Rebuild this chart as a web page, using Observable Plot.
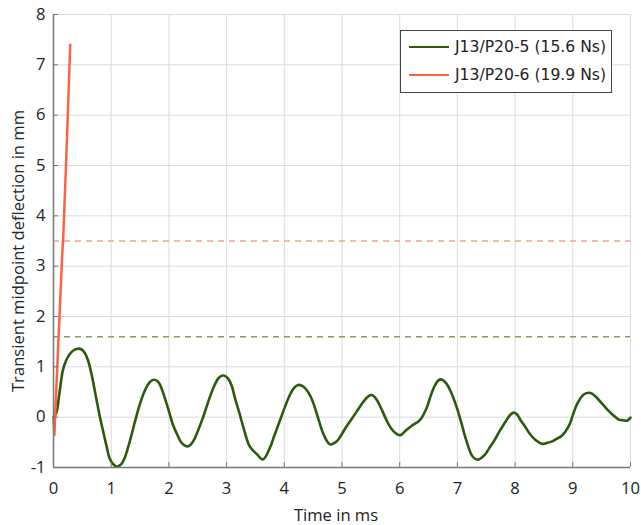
<!DOCTYPE html>
<html>
<head>
<meta charset="utf-8">
<script src="https://cdn.jsdelivr.net/npm/d3@7"></script>
<script src="https://cdn.jsdelivr.net/npm/@observablehq/plot@0.6"></script>
<style>
  body { margin: 0; background: #fff; }
  #wrap { position: relative; width: 641px; height: 525px; font-family: "Open Sans", sans-serif; }
  #legend { position: absolute; left: 400px; top: 30px; width: 210px; height: 61px; border: 1px solid #444; background: #fff; font-family: "DejaVu Sans", sans-serif; font-size: 15.6px; color: #222; }
  .row { position: absolute; left: 8px; display: flex; align-items: center; line-height: 20px; }
  .sw { width: 40px; height: 0; border-top-width: 2.5px; border-top-style: solid; margin-right: 6px; }
</style>
</head>
<body>
<div id="wrap">
  <div id="chart"></div>
  <div id="legend"></div>
</div>
<script>
const seriesNames = ["J13/P20-5 (15.6 Ns)", "J13/P20-6 (19.9 Ns)"];
const seriesColors = ["#2c5a0c", "#ff6142"];
const limitColors = ["#8c9b62", "#f6a48c"];
const limits = [1.6, 3.5];
const xTicks = [0,1,2,3,4,5,6,7,8,9,10];
const yTicks = [-1,0,1,2,3,4,5,6,7,8];
const xLabel = "Time in ms";
const yLabel = "Transient midpoint deflection in mm";

const greenT = [0,0.05,0.10,0.16,0.22,0.28,0.35,0.42,0.48,0.54,0.60,0.66,0.74,0.80,0.86,0.92,0.97,1.03,1.09,1.17,1.23,1.29,1.36,1.43,1.50,1.58,1.65,1.72,1.81,1.87,1.93,2.00,2.07,2.15,2.22,2.33,2.42,2.50,2.59,2.68,2.77,2.85,2.91,2.97,3.03,3.09,3.14,3.23,3.29,3.40,3.52,3.63,3.75,3.83,3.92,4.01,4.10,4.17,4.24,4.31,4.38,4.46,4.53,4.60,4.68,4.79,4.91,5.00,5.08,5.17,5.26,5.33,5.40,5.46,5.52,5.58,5.63,5.70,5.78,5.85,5.92,6.01,6.12,6.21,6.35,6.47,6.53,6.61,6.67,6.73,6.80,6.88,6.99,7.07,7.14,7.25,7.31,7.37,7.48,7.55,7.63,7.72,7.80,7.92,7.97,8.03,8.09,8.18,8.26,8.36,8.47,8.56,8.64,8.72,8.81,8.93,9.00,9.07,9.19,9.31,9.42,9.50,9.60,9.70,9.80,9.87,9.94,10.0];
const greenY = [0,0.09,0.45,0.92,1.13,1.25,1.33,1.36,1.35,1.28,1.12,0.85,0.38,0.03,-0.28,-0.58,-0.81,-0.93,-0.98,-0.94,-0.82,-0.61,-0.32,-0.01,0.27,0.52,0.67,0.74,0.71,0.58,0.38,0.12,-0.15,-0.36,-0.51,-0.58,-0.48,-0.28,-0.01,0.30,0.58,0.76,0.82,0.82,0.76,0.62,0.40,0.05,-0.20,-0.58,-0.73,-0.84,-0.61,-0.36,-0.08,0.20,0.45,0.58,0.64,0.62,0.55,0.40,0.19,-0.07,-0.34,-0.54,-0.48,-0.33,-0.18,-0.03,0.12,0.24,0.35,0.42,0.44,0.38,0.29,0.12,-0.08,-0.22,-0.31,-0.36,-0.25,-0.17,-0.06,0.19,0.40,0.63,0.73,0.75,0.68,0.52,0.19,-0.12,-0.41,-0.76,-0.83,-0.84,-0.74,-0.62,-0.48,-0.30,-0.15,0.05,0.09,0.06,-0.05,-0.20,-0.34,-0.46,-0.53,-0.51,-0.48,-0.43,-0.37,-0.18,0.04,0.25,0.45,0.48,0.38,0.28,0.15,0.04,-0.05,-0.06,-0.07,-0.01];

const redT = [0, 0.015, 0.06, 0.10, 0.15, 0.17, 0.22, 0.29];
const redY = [0, -0.36, 0.85, 1.9, 3.2, 3.6, 5.1, 7.4];

const green = greenT.map((t, i) => ({t, v: greenY[i]}));
const red = redT.map((t, i) => ({t, v: redY[i]}));

const font = "Open Sans, sans-serif";
const fmt = d => String(d);

const chart = Plot.plot({
  width: 641,
  height: 525,
  marginLeft: 53,
  marginRight: 11,
  marginTop: 14,
  marginBottom: 58,
  style: {fontFamily: font, fontSize: "16.6px", color: "#222", background: "#fff"},
  x: {domain: [0, 10]},
  y: {domain: [-1, 8]},
  marks: [
    Plot.gridX(xTicks, {stroke: "#dcdcdc", strokeOpacity: 1, strokeWidth: 1}),
    Plot.gridY(yTicks, {stroke: "#dcdcdc", strokeOpacity: 1, strokeWidth: 1}),
    Plot.ruleY(limits, {y: d => d, stroke: (d, i) => limitColors[i], strokeDasharray: "6,5", strokeWidth: 1.5}),
    Plot.line(green, {x: "t", y: "v", stroke: seriesColors[0], strokeWidth: 2.6, curve: "catmull-rom"}),
    Plot.line(red, {x: "t", y: "v", stroke: seriesColors[1], strokeWidth: 2.5}),
    Plot.ruleX([0], {stroke: "#777", strokeWidth: 1.5}),
    Plot.ruleY([-1], {stroke: "#777", strokeWidth: 1.5}),
    Plot.axisX(xTicks, {tickSize: -5, stroke: "#777", tickPadding: 20, fontSize: 16.6, fill: "#222",
      tickFormat: fmt, label: null}),
    Plot.axisY(yTicks, {tickSize: -5, stroke: "#777", tickPadding: 13, fontSize: 16.6, fill: "#222",
      tickFormat: fmt, label: null}),
    Plot.text([xLabel], {text: d => d, frameAnchor: "bottom", lineAnchor: "middle", textAnchor: "middle", dy: 48, dx: -6, fontSize: 16.6, fill: "#222"}),
    Plot.text([yLabel], {text: d => d, frameAnchor: "left", lineAnchor: "middle", textAnchor: "middle", rotate: -90, dx: -35, dy: 10, fontSize: 16.6, fill: "#222"})
  ]
});
document.getElementById("chart").appendChild(chart);

const legend = document.getElementById("legend");
seriesNames.forEach((name, i) => {
  const row = document.createElement("div");
  row.className = "row";
  row.style.top = (6 + i * 28) + "px";
  const sw = document.createElement("div");
  sw.className = "sw";
  sw.style.borderTopColor = seriesColors[i];
  const tx = document.createElement("span");
  tx.textContent = name;
  row.appendChild(sw);
  row.appendChild(tx);
  legend.appendChild(row);
});
</script>
</body>
</html>
